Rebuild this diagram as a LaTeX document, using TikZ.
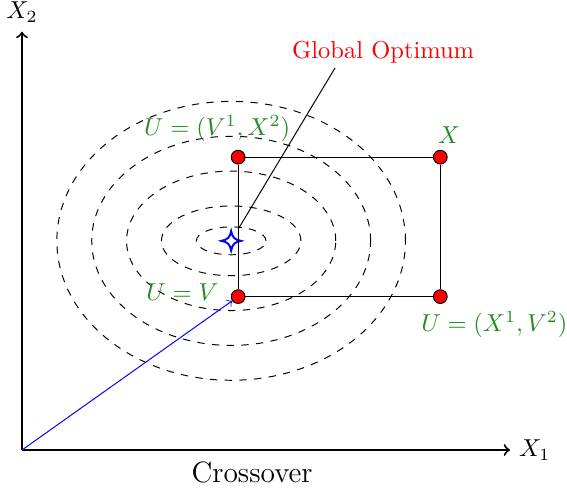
\documentclass[tikz,border=0pt]{standalone}
\definecolor{lblgreen}{RGB}{34,139,34}
\begin{document}
\begin{tikzpicture}[x=0.5cm,y=0.5cm,
  dot/.style={circle,draw=black,fill=red,minimum size=5.6pt,inner sep=0pt},
  lbl/.style={text=lblgreen},
  axis/.style={thick,->},
  contour/.style={dashed},
  hub/.style={circle,minimum size=10.6pt,inner sep=0pt}]
\useasboundingbox (-0.631,-1.119) rectangle (15.634,12.909);
\coordinate (O) at (0,0);
\coordinate (xend) at (14,0);
\coordinate (yend) at (0,12);
\draw[axis] (O) -- (xend) node[right] {$X_1$};
\draw[axis] (O) -- (yend) node[above] {$X_2$};
\foreach \r/\s in {1/0.4,2/1,3/2,4/3,5/4}
  \draw[contour] (6,6) ellipse [x radius=\r, y radius=\s];
% optimum
\node[hub] (opt) at (6,6) {};
\draw[blue,thick] (opt.center) ++(0,4pt)
  .. controls ++(0.4pt,-2.5pt) and ++(-2.5pt,0.4pt) .. ++(4pt,-4pt)
  .. controls ++(-2.5pt,-0.4pt) and ++(0.4pt,2.5pt) .. ++(-4pt,-4pt)
  .. controls ++(-0.4pt,2.5pt) and ++(2.5pt,-0.4pt) .. ++(-4pt,4pt)
  .. controls ++(2.5pt,0.4pt) and ++(-0.4pt,-2.5pt) .. ++(4pt,4pt) -- cycle;
% rectangle corners
\node[dot] (V) at (6.2,4.4) {};
\node[dot] (U1) at (12,4.4) {};
\node[dot] (X) at (12,8.4) {};
\node[dot] (U2) at (6.2,8.4) {};
\draw (V) -- (U1);
\draw (U1) -- (X);
\draw (X) -- (U2);
\draw (U2) -- (V);
% global optimum label
\coordinate (gl) at (8.98,10.96);
\draw (opt) -- (gl);
\node[text=red] (glabel) at (10.36,11.42) {Global Optimum};
% crossover vector
\draw[blue,->] (O) -- (V);
% labels
\node[lbl] (lX) at (12.25,9.04) {$X$};
\node[lbl] (lU2) at (5.6,9.21) {$U=(V^1,X^2)$};
\node[lbl] (lV) at (4.6,4.53) {$U=V$};
\node[lbl] (lU1) at (13.55,3.59) {$U=(X^1,V^2)$};
\node[font=\large] (cross) at (6.6,-0.63) {Crossover};
\end{tikzpicture}
\end{document}
